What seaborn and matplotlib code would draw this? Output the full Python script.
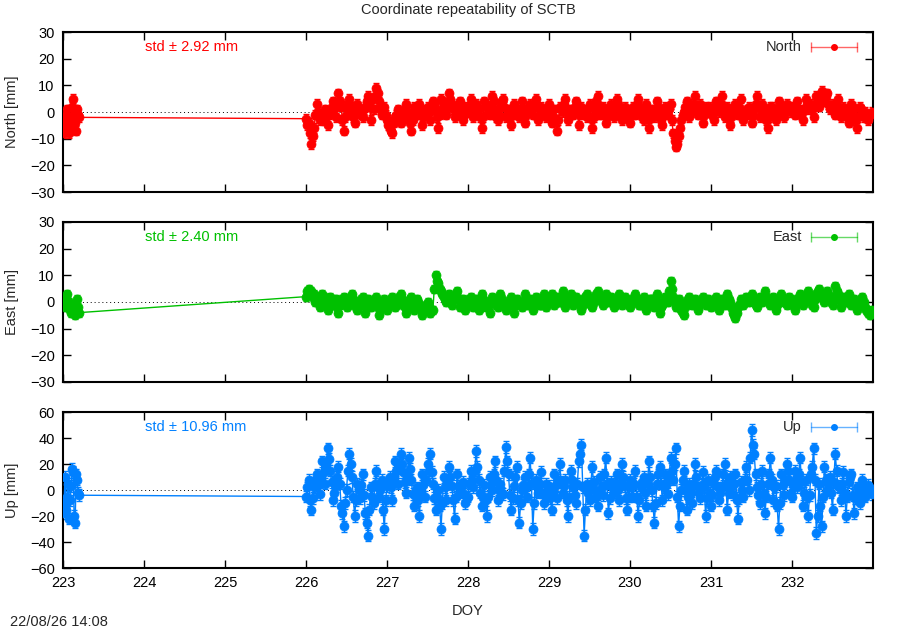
import numpy as np
import pandas as pd
import matplotlib
matplotlib.use('Agg')
import matplotlib.pyplot as plt
import seaborn as sns

sns.set_theme(style='ticks')
plt.rcParams['font.family'] = ['Liberation Sans', 'DejaVu Sans']
plt.rcParams['font.size'] = 10.5

# epochs (DOY): a short first session, then continuous data from day 226
seg1_start, seg1_step, seg1_n = 223.0, 0.025, 9
seg2_start, seg2_step, seg2_n = 226.0, 1 / 30, 210

# residuals in mm at the main epochs (first session, then day 226 ... 232, 30 per day)
north = [-6, -3, 1, -8, -2, 5, -4, 1, -2,
         -2.5, -4, -12, -6, 3, -3, -1, 1, -5, 0, 4, -2, 7, 2, -7, 1, 5, -1, -4, 3, 0, -2, 2, 6, -3, 1, 9, 4, -1, 2,
         -3, -6, -8, -2, 1, -4, 0, 3, -2, -7, 2, -1, 3, -5, 0, 2, -3, 4, 1, -6, 5, 2, -1, 7, 3, -2, 1, 4, -3, 2,
         0, 5, -2, 3, 1, -6, 4, 2, -1, 6, 0, -3, 2, 5, -2, 1, -5, 3, 0, -2, 4, -4, 1, 3, -1, 5, -3, 2, 0, -2,
         3, -4, 1, -7, 2, 0, 5, -3, 1, -1, 4, -5, 2, 0, -2, 3, -6, 1, 6, -1, 2, -4, 0, 3, -2, 5, 1, -3, 2, 0,
         -4, 2, -1, 5, 0, -3, 3, -6, 1, -2, 4, 0, -5, 2, -1, 3, -8, -13, -9, -3, 0, 4, -2, 1, 6, -1, 3, -4, 2, 0,
         1, -3, 4, 0, 6, -2, 2, -5, 1, 3, -1, 5, -3, 0, 2, -4, 1, 6, -2, 3, 0, -6, 2, 1, -3, 4, 0, -2, 3, 1,
         2, -1, 4, 0, -3, 5, 1, 3, -2, 6, 2, 8, 4, 7, 1, 3, -1, 5, -2, 2, 0, -4, 3, 1, -6, 2, -1, 0, -3, -1]
east = [1, -2, 3, 0, -4, -2, -5, 1, -4,
        2, 5, 4, 3, 1, -2, 3, 0, -3, 2, -1, 1, -4, 0, 2, -2, 1, 3, -1, -3, 0, 2, -4, 1, -2, 0, 2, -5, -1, 1,
        -3, 0, 2, -2, 1, 3, -1, -4, 0, 2, -3, 1, -1, -5, -2, 0, -4, -3, 10, 7, 4, 2, 0, 3, -1, 2, 4, -2, 1, -3,
        0, 2, -2, 1, -3, 3, -1, 0, -4, 2, 1, -2, 3, 0, -3, -1, 2, -4, 1, 0, -2, 3, -1, 1, -3, 2, 0, -1, 3, -2,
        1, 3, -1, 2, 0, 4, -2, 1, 3, -1, 2, 0, -3, 1, 3, 0, -2, 2, 4, 1, -1, 3, 0, 2, -2, 1, 3, -1, 2, 0,
        -2, 1, 3, 0, -1, 2, -3, 0, 1, -2, 3, -4, -1, 2, 0, 8, 2, -2, 1, -3, -5, 0, 2, -1, 1, -3, 0, 2, -1, 1,
        -2, 0, 2, -3, 1, -1, 3, 0, -4, -6, -2, 1, -1, 2, 0, 3, 1, -2, 2, 0, 4, 1, -1, 2, -3, 1, 3, 0, -1, 2,
        0, -3, 1, 3, -1, 2, 4, 1, -2, 3, 5, 2, 0, 4, 1, -1, 6, 3, -2, 2, 0, 3, -1, 1, -3, 0, 2, -2, -4, -5]
up = [-18, 10, -5, -22, 3, 14, -25, 8, -4,
      -5, 8, -15, 2, 12, -3, 22, 5, 32, 15, -8, 3, 18, -12, -28, 0, 28, 10, -20, 5, -6, 12, -18, -35, 2, -10, 15, -5, 8, -30,
      3, 10, -8, 22, 5, 28, 14, -2, 25, 8, -12, 2, -20, 12, -5, 20, 28, 5, -15, 0, -30, 10, -8, 18, 3, -22, 12, -2, 6, -10,
      -5, 15, 2, 30, 8, -12, 4, -20, 10, 0, 22, -8, 5, -3, 33, 12, -15, 3, 18, -25, 0, 10, -5, 25, -30, 8, -2, 14, -10, 5,
      3, -15, 12, -6, 20, -2, 8, -20, 15, 2, -10, 22, 35, -35, 5, -8, 18, 0, -12, 10, -4, 25, -18, 6, -2, 12, -8, 20, 3, -15,
      8, -5, 15, -20, 2, 10, -12, 22, 0, -25, 5, 18, -8, 12, -3, 25, 8, 32, -28, 0, 15, -15, 5, -10, 20, 2, -6, 14, -20, 8,
      -12, 5, 15, -8, 2, 20, -15, 10, -3, 12, -22, 6, -5, 18, 0, 46, 28, 2, -10, 15, -18, 5, 25, -8, 3, -30, 12, -4, 20, 8,
      -5, 15, 2, 25, -12, 8, -20, 12, 32, -33, 5, -28, 18, 0, 10, -15, 28, 3, -8, 14, -20, 6, 12, -18, 2, -10, 8, -5, 4, 0]

# residuals at the half-step epochs (8 in the first session, 210 from day 226)
north_mid = [-8, -1, -3, -6, 2, 1, -7, -1,
             -5, -8, -9, -1, 0, -2, -3, -2, -1, 2, 1, 3, 4, -3, -2, 3, 2, -2, 0, 1, -1, 1, 4, 2, 5, 6, 7, 1, 0, -1,
             -5, -7, -4, -1, -2, -3, 1, 0, -4, -3, 0, 2, -1, -2, 1, 0, 1, 3, -2, -1, 4, 0, 3, 5, 1, -1, 3, 0, -1, 1,
             2, 3, 1, 2, -2, -2, 3, 0, 2, 4, -2, -1, 4, 2, -1, -2, -1, 1, -1, 1, 0, -1, 2, 1, 3, 2, -1, 1, -1, 1,
             -1, -2, -3, -3, 1, 3, 1, -1, 0, 2, 0, -1, 1, -1, 1, -2, -2, 4, 2, 0, -1, -2, 2, 0, 2, 3, -1, 0, 1, -2,
             -1, 0, 3, 2, -2, 0, -2, -2, -1, 1, 2, -3, -1, 1, 1, -3, -11, -12, -6, -1, 2, 1, 0, 3, 2, 1, 0, -1, 1, 2,
             -1, 1, 2, 3, 2, 0, -2, -2, 2, 1, 2, 0, -1, 1, -1, -1, 3, 2, 1, 1, -3, -2, 2, -1, 1, 2, -1, 1, 2, 0,
             1, 2, 1, -1, 1, 3, 2, 1, 2, 5, 6, 5, 6, 3, 2, 1, 2, 1, 0, 1, -2, -1, 2, -3, -2, 1, -2, -2, -1, 0]
east_mid = [-1, 2, -1, -3, -1, -4, -2, -2,
            4, 3, 2, 0, 0, 1, 2, -1, 0, 1, 0, -2, -1, 1, 0, -1, 2, 1, -2, -1, 1, -1, -2, 0, -1, 1, -2, -3, 0, -2,
            -1, 1, 0, -1, 2, 1, -2, -2, 1, 0, -1, 0, -3, -3, -1, -2, -3, 5, 8, 5, 3, 1, 2, 1, 1, 3, 1, 0, -1, -1,
            1, 0, -1, -1, 0, 1, -2, -2, 0, 1, -1, 1, 1, -1, -2, 0, -1, -1, 0, -1, 0, 1, 0, -1, 0, 1, -1, 1, 0, 0,
            2, 1, 1, 0, 2, 1, 0, 2, 1, 0, 1, -1, -1, 2, 1, -1, 0, 3, 2, 0, 1, 1, 1, 0, -1, 2, 1, 1, 1, -1,
            0, 2, 1, -1, 1, 0, -1, 1, -1, 1, -1, -2, 0, 1, 4, 5, 0, -1, -1, -4, -2, 1, 0, 0, -1, -1, 1, 0, 0, -1,
            -1, 1, 0, -1, 0, 1, 1, -2, -5, -4, -1, 0, 1, 1, 1, 2, -1, 0, 1, 2, 2, 0, 1, 0, -1, 2, 1, 0, 1, 1,
            -1, -1, 2, 1, 0, 3, 2, -1, 1, 4, 3, 1, 2, 3, 0, 2, 4, 1, 0, 1, 2, 1, 0, -1, -1, 1, 0, -3, -4, -3]
up_mid = [-10, -15, 5, -8, 16, -20, 12, -2,
          2, -8, -6, 8, 4, 10, 14, 20, 24, 6, -2, 10, 5, -18, -10, 15, 20, -5, -8, 0, 4, -4, -25, -15, -5, 5, 2, 0, -15, -8,
          6, 2, 10, 15, 18, 20, 6, 10, 16, -3, -4, -8, -2, 4, 8, 15, 14, -6, -5, -12, -10, 2, 5, 10, -8, -5, 3, 2, -3, -6,
          5, 8, 15, 18, -2, -5, -8, -5, 4, 12, 8, 0, -2, 15, 22, -4, -6, 10, -8, -10, 4, 2, 12, 5, -10, 3, 5, -2, -4, 0,
          -6, -2, 4, 8, 6, 3, -8, -5, 8, -4, 5, 28, 2, -15, -2, 5, 6, -5, -2, 2, 12, 5, -6, 2, 5, 0, 6, 10, -6, -5,
          2, 5, -5, -8, 6, -2, 5, 10, -12, -10, 12, 5, 2, 4, 10, 15, 20, -5, -12, 8, 0, -5, -2, 5, 10, -2, 4, 2, -6, -2,
          -4, 10, 2, -2, 12, 5, -2, 3, 5, -8, -6, 0, 8, 8, 25, 35, 12, -4, 5, -2, -5, 12, 8, 2, -12, -10, 4, 8, 15, -2,
          5, 8, 12, 6, -2, -5, -4, 18, 8, -20, -12, -5, 8, 5, -2, 6, 15, 2, 5, -2, -5, 10, -4, -6, -5, 0, 2, -2, 2, -3]

sigmas = [1.8, 1.5, 4.5]
std_vals = [2.92, 2.40, 10.96]
comp_names = ['North', 'East', 'Up']
ylabels = ['North [mm]', 'East [mm]', 'Up [mm]']
ylims = [(-30, 30), (-30, 30), (-60, 60)]
ysteps = [10, 10, 20]
colors = ['#ff0000', '#00c000', '#0080ff']
xticks = list(range(223, 233))

doy_main = np.concatenate([seg1_start + seg1_step * np.arange(seg1_n),
                           seg2_start + seg2_step * np.arange(seg2_n)])
doy_mid = np.concatenate([seg1_start + seg1_step * (np.arange(seg1_n - 1) + 0.5),
                          seg2_start + seg2_step * (np.arange(seg2_n) + 0.5)])
df = pd.concat([
    pd.DataFrame({'doy': doy_main, 'North': north, 'East': east, 'Up': up}),
    pd.DataFrame({'doy': doy_mid, 'North': north_mid, 'East': east_mid, 'Up': up_mid}),
]).sort_values('doy').reset_index(drop=True)

fig = plt.figure(figsize=(9, 6.3), dpi=100)
boxes = [(0.07, 0.6952, 0.9, 0.254), (0.07, 0.3937, 0.9, 0.254), (0.07, 0.0984, 0.9, 0.2476)]

for i, name in enumerate(comp_names):
    ax = fig.add_axes(boxes[i])
    c = colors[i]
    ax.axhline(0, color='black', lw=0.7, ls=(0, (1, 3)), zorder=1)
    ax.errorbar(df['doy'], df[name], yerr=sigmas[i], fmt='none', ecolor=c,
                elinewidth=1, capsize=2.2, zorder=2)
    sns.lineplot(data=df, x='doy', y=name, sort=False, color=c, lw=1,
                 marker='o', markersize=6.5, markeredgecolor=c, markeredgewidth=0.5,
                 ax=ax, zorder=3)
    ax.set_xlim(223, 233)
    ax.set_ylim(*ylims[i])
    ax.set_yticks(np.arange(ylims[i][0], ylims[i][1] + 1, ysteps[i]))
    ax.set_xticks(xticks)
    ax.tick_params(direction='in', length=6, width=1, top=True, right=True,
                   colors='black', labelsize=10.5, pad=6)
    if i < 2:
        ax.set_xticklabels([])
        ax.set_xlabel('')
    else:
        ax.set_xlabel('DOY', fontsize=10.5, labelpad=10)
    ax.set_ylabel(ylabels[i], fontsize=10.5, labelpad=8)
    for s in ax.spines.values():
        s.set_linewidth(1.5)
        s.set_color('black')

    ax.text(0.101, 0.906, f'std \u00b1 {std_vals[i]:.2f} mm', transform=ax.transAxes,
            color=c, ha='left', va='center', fontsize=10.5)
    # gnuplot-style key
    ax.text(0.912, 0.906, name, transform=ax.transAxes, ha='right', va='center', fontsize=10.5)
    ax.plot([0.923, 0.98], [0.906, 0.906], transform=ax.transAxes, color=c, lw=1, alpha=0.6)
    ax.plot([0.923, 0.98], [0.906, 0.906], transform=ax.transAxes, ls='none', marker='|',
            ms=7, mew=1, color=c, alpha=0.6)
    ax.plot([0.9515], [0.906], transform=ax.transAxes, marker='o', ms=4, color=c)

fig.text(0.52, 0.984, 'Coordinate repeatability of SCTB', ha='center', va='center', fontsize=10.5)
fig.text(0.011, 0.0127, '22/08/26 14:08', ha='left', va='center', fontsize=10.5)

fig.savefig('out.png', dpi=100)
